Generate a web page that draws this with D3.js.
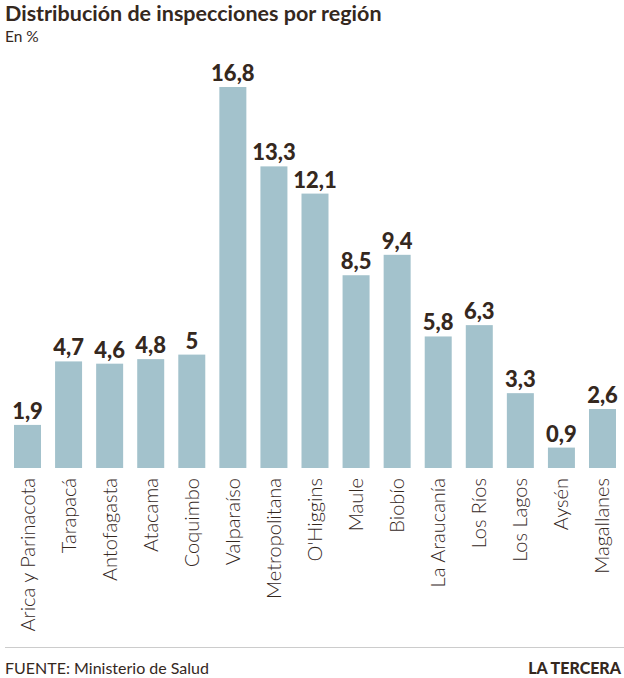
<!DOCTYPE html>
<html><head><meta charset="utf-8">
<script src="https://cdn.jsdelivr.net/npm/d3@7"></script>
<style>body{margin:0;background:#fff}svg{display:block}</style>
</head><body>
<script>
const categories = ["Arica y Parinacota","Tarapacá","Antofagasta","Atacama","Coquimbo","Valparaíso","Metropolitana","O'Higgins","Maule","Biobío","La Araucanía","Los Ríos","Los Lagos","Aysén","Magallanes"];
const values = [1.9,4.7,4.6,4.8,5,16.8,13.3,12.1,8.5,9.4,5.8,6.3,3.3,0.9,2.6];
const labels = ["1,9","4,7","4,6","4,8","5","16,8","13,3","12,1","8,5","9,4","5,8","6,3","3,3","0,9","2,6"];

const W=624,H=678;
const txt="#35281e";
const svg=d3.select("body").append("svg").attr("width",W).attr("height",H);
const font="Lato, 'Open Sans', sans-serif";

svg.append("text").attr("x",5).attr("y",21).attr("font-family",font).attr("font-weight",700)
  .attr("font-size",21.5).attr("fill",txt).text("Distribución de inspecciones por región");
svg.append("text").attr("x",5).attr("y",42).attr("font-family",font).attr("font-weight",400)
  .attr("font-size",15.5).attr("fill",txt).text("En %");

const x=d3.scaleBand().domain(categories).range([14,616]).paddingInner(0.3426).paddingOuter(0);
const y=d3.scaleLinear().domain([0,16.8]).range([468,87]);
const g=svg.append("g");

g.selectAll("rect").data(values).join("rect")
  .attr("x",(d,i)=>x(categories[i])).attr("width",x.bandwidth())
  .attr("y",d=>y(d)).attr("height",d=>y(0)-y(d)).attr("fill","#a3c2cc");

g.selectAll("text.v").data(values).join("text").attr("class","v")
  .attr("x",(d,i)=>x(categories[i])+x.bandwidth()/2).attr("y",d=>y(d)-6)
  .attr("text-anchor","middle").attr("font-family",font).attr("font-weight",900)
  .attr("font-size",22).attr("fill",txt).text((d,i)=>labels[i]);

g.selectAll("text.c").data(categories).join("text").attr("class","c")
  .attr("transform",(d)=>`translate(${x(d)+x.bandwidth()/2+7},478) rotate(-90)`)
  .attr("text-anchor","end").attr("font-family",font).attr("font-weight",300)
  .attr("font-size",20).attr("fill",txt).text(d=>d);

svg.append("line").attr("x1",5).attr("x2",W).attr("y1",647.5).attr("y2",647.5)
  .attr("stroke","#cccccc").attr("stroke-width",1);
svg.append("text").attr("x",5).attr("y",674).attr("font-family",font).attr("font-weight",400)
  .attr("font-size",16).attr("fill",txt).text("FUENTE: Ministerio de Salud");
svg.append("text").attr("x",621).attr("y",674).attr("text-anchor","end").attr("font-family",font).attr("font-weight",900)
  .attr("font-size",16).attr("fill",txt).text("LA TERCERA");
</script>
</body></html>
